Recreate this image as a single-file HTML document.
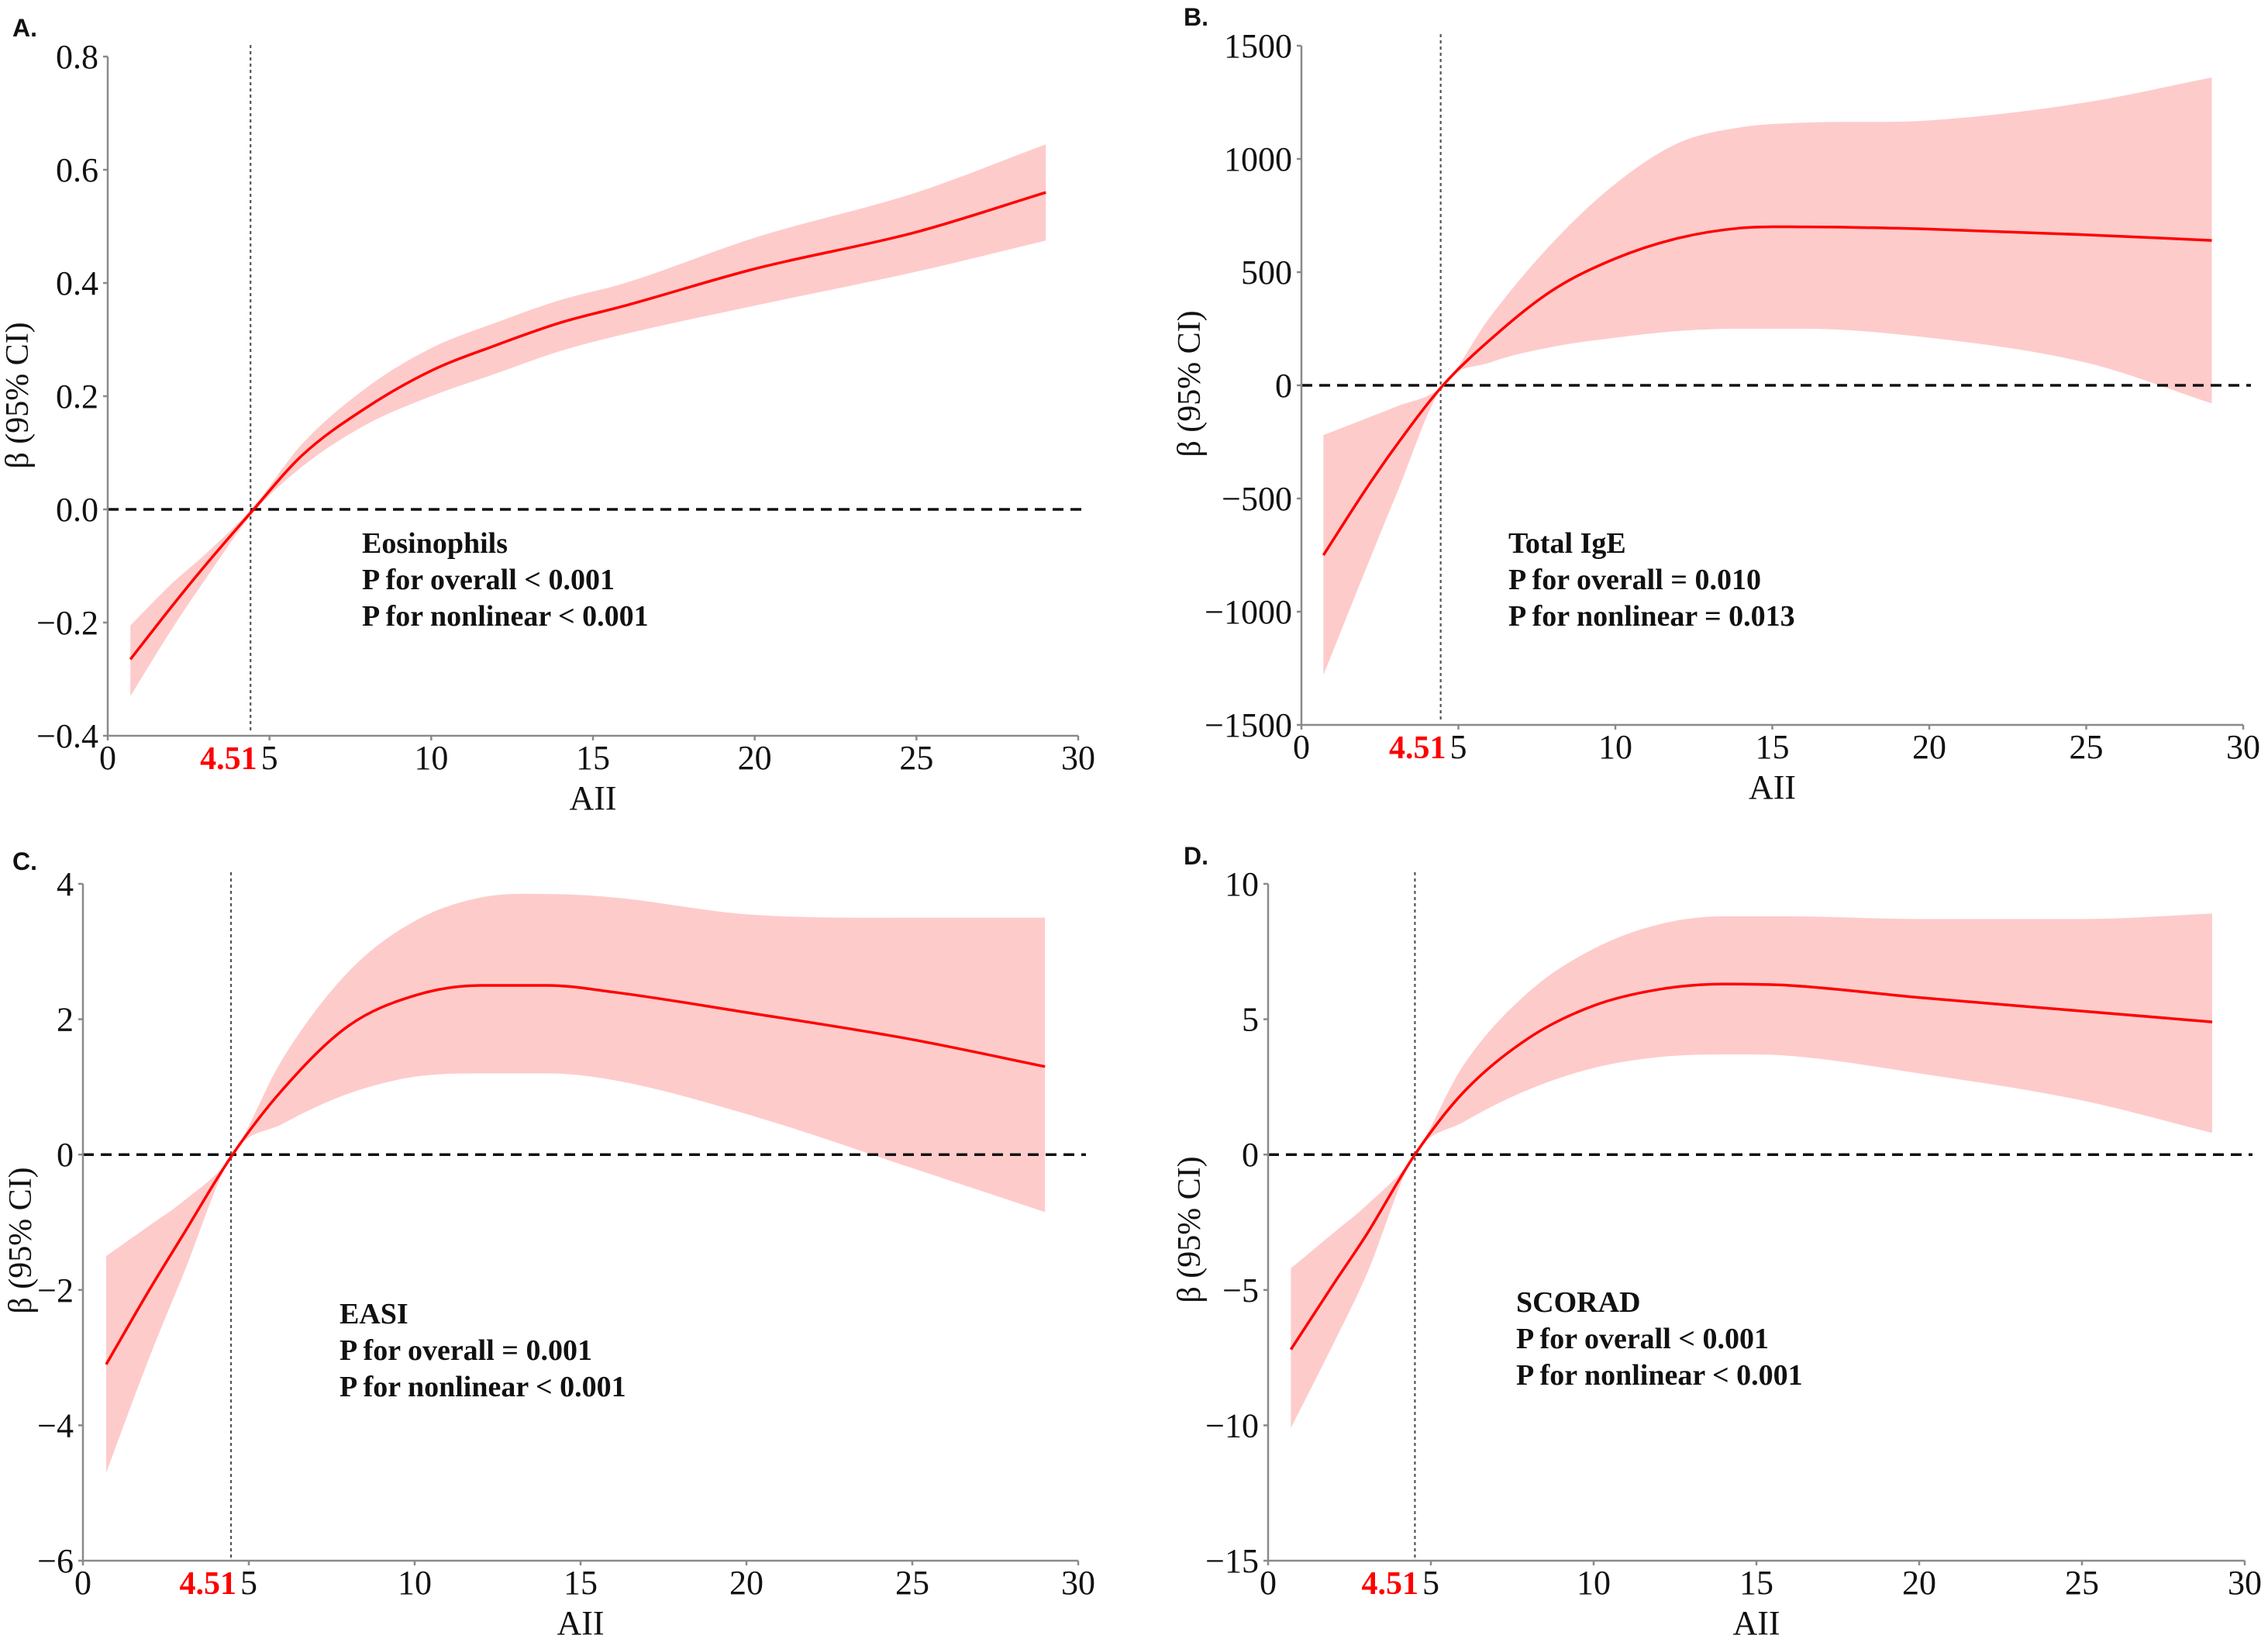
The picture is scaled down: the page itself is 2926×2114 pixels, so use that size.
<!DOCTYPE html>
<html><head><meta charset="utf-8"><style>
html,body{margin:0;padding:0;background:#fff;}
svg{display:block;}
</style></head><body>
<svg id="fig" xmlns="http://www.w3.org/2000/svg" width="2926" height="2114" viewBox="0 0 2926 2114"></svg>
<script>
// ---- data ----
const xs = [0.7, 2, 3, 4.51, 6, 8, 10, 12, 14, 16, 20, 25, 29];

const eosMean  = [-0.265,-0.17,-0.1,0,0.095,0.18,0.245,0.29,0.33,0.36,0.425,0.49,0.56];
const eosLower = [-0.33,-0.21,-0.125,-0.005,0.075,0.15,0.2,0.24,0.28,0.31,0.36,0.42,0.475];
const eosUpper = [-0.205,-0.13,-0.08,0.005,0.115,0.215,0.285,0.33,0.37,0.4,0.48,0.56,0.645];

const igeMean  = [-750,-470,-270,0,200,420,560,650,695,700,690,665,640];
const igeLower = [-1280,-830,-490,0,100,170,210,240,250,250,210,100,-80];
const igeUpper = [-220,-150,-95,0,300,630,890,1070,1140,1160,1170,1250,1360];

const easiMean  = [-3.1,-2.0,-1.2,0,0.95,1.9,2.35,2.5,2.5,2.4,2.1,1.7,1.3];
const easiLower = [-4.7,-3.0,-1.8,0,0.45,0.9,1.15,1.2,1.2,1.1,0.6,-0.2,-0.85];
const easiUpper = [-1.5,-1.05,-0.7,0,1.4,2.7,3.45,3.8,3.85,3.8,3.55,3.5,3.5];

const scoMean  = [-7.2,-4.8,-3.0,0,2.3,4.3,5.5,6.1,6.3,6.25,5.8,5.3,4.9];
const scoLower = [-10.1,-7,-4.5,0,1.2,2.4,3.2,3.6,3.7,3.65,3.0,2.0,0.8];
const scoUpper = [-4.2,-2.9,-1.9,0,3.3,6.0,7.6,8.5,8.8,8.8,8.7,8.7,8.9];

const xTicks = [0,5,10,15,20,25,30];
const eosTicks = [-0.4,-0.2,0.0,0.2,0.4,0.6,0.8];
const eosTickLabels = ["\u22120.4","\u22120.2","0.0","0.2","0.4","0.6","0.8"];
const igeTicks = [-1500,-1000,-500,0,500,1000,1500];
const igeTickLabels = ["\u22121500","\u22121000","\u2212500","0","500","1000","1500"];
const easiTicks = [-6,-4,-2,0,2,4];
const easiTickLabels = ["\u22126","\u22124","\u22122","0","2","4"];
const scoTicks = [-15,-10,-5,0,5,10];
const scoTickLabels = ["\u221215","\u221210","\u22125","0","5","10"];
const cutoff = 4.51;

const NS = "http://www.w3.org/2000/svg";
const svg = document.getElementById('fig');
const SERIF = "'Liberation Serif', serif";
function mk(tag, attrs, parent){ const e=document.createElementNS(NS,tag); for(const k in attrs) e.setAttribute(k,attrs[k]); (parent||svg).appendChild(e); return e; }

// monotone-ish cubic via Catmull-Rom with non-uniform x spacing handled through tangents
function tangents(pts){
  const n=pts.length, m=[];
  for(let i=0;i<n;i++){
    if(i===0) m.push((pts[1][1]-pts[0][1])/(pts[1][0]-pts[0][0]));
    else if(i===n-1) m.push((pts[n-1][1]-pts[n-2][1])/(pts[n-1][0]-pts[n-2][0]));
    else {
      const d0=(pts[i][1]-pts[i-1][1])/(pts[i][0]-pts[i-1][0]);
      const d1=(pts[i+1][1]-pts[i][1])/(pts[i+1][0]-pts[i][0]);
      m.push(d0*d1<=0?0:(d0+d1)/2);
    }
  }
  return m;
}
function seg(pts){
  const m=tangents(pts); let d='';
  for(let i=0;i<pts.length-1;i++){
    const h=pts[i+1][0]-pts[i][0];
    d+=` C${pts[i][0]+h/3},${pts[i][1]+m[i]*h/3} ${pts[i+1][0]-h/3},${pts[i+1][1]-m[i+1]*h/3} ${pts[i+1][0]},${pts[i+1][1]}`;
  }
  return d;
}
function smoothPath(pts){ return `M${pts[0][0]},${pts[0][1]}`+seg(pts); }
function smoothRev(pts){ // pts given in increasing x; draw reversed
  const r=pts.slice().reverse();
  const m=tangents(pts).reverse(); let d=` L${r[0][0]},${r[0][1]}`;
  for(let i=0;i<r.length-1;i++){
    const h=r[i+1][0]-r[i][0];
    d+=` C${r[i][0]+h/3},${r[i][1]+m[i]*h/3} ${r[i+1][0]-h/3},${r[i+1][1]-m[i+1]*h/3} ${r[i+1][0]},${r[i+1][1]}`;
  }
  return d;
}

function panel(cfg){
  const g = mk('g',{});
  
  
  const X = v => cfg.x0 + (v-0)/(30-0)*(cfg.x1-cfg.x0);
  const Y = v => cfg.yb + (v-cfg.ymin)/(cfg.ymax-cfg.ymin)*(cfg.yt-cfg.yb);

  const up = xs.map((x,i)=>[X(x),Y(cfg.upper[i])]);
  const lo = xs.map((x,i)=>[X(x),Y(cfg.lower[i])]);
  const band = mk('path',{d: smoothPath(up)+smoothRev(lo)+' Z', fill:'#fecbcb', stroke:'none'}, g);
  
  

  const zl = mk('line',{x1:cfg.x0, x2:X(30)+10, y1:Y(0), y2:Y(0), stroke:'#111', 'stroke-width':3.5, 'stroke-dasharray':'14 9'}, g);
  
  

  const vl = mk('line',{x1:X(cutoff)+cfg.vOff, x2:X(cutoff)+cfg.vOff, y1:cfg.yt-15, y2:cfg.yb-4, stroke:'#555', 'stroke-width':2.2, 'stroke-dasharray':'4 4'}, g);
  
  

  const mp = mk('path',{d: smoothPath(xs.map((x,i)=>[X(x),Y(cfg.mean[i])])), fill:'none', stroke:'#ff0000', 'stroke-width':3.5}, g);
  
  

  const ax = mk('path',{d:`M${cfg.x0},${cfg.yt} L${cfg.x0},${cfg.yb} L${X(30)},${cfg.yb}`, fill:'none', stroke:'#8a8a8a','stroke-width':2.5}, g);
  
  

  xTicks.forEach(t=>{
    mk('line',{x1:X(t),x2:X(t),y1:cfg.yb,y2:cfg.yb+6,stroke:'#8a8a8a','stroke-width':2.5},g);
    const tx = mk('text',{x:X(t), y:cfg.yb+43, 'text-anchor':'middle', 'font-family':SERIF, 'font-size':44, fill:'#111'}, g);
    tx.textContent = t;
    
    
  });
  cfg.ticks.forEach((t,i)=>{
    mk('line',{x1:cfg.x0-6,x2:cfg.x0,y1:Y(t),y2:Y(t),stroke:'#8a8a8a','stroke-width':2.5},g);
    const ty = mk('text',{x:cfg.x0-12, y:Y(t)+15, 'text-anchor':'end', 'font-family':SERIF, 'font-size':44, fill:'#111'}, g);
    ty.textContent = cfg.tickLabels[i];
    
    
  });
  const cl = mk('text',{x:X(5)-16, y:cfg.yb+43, 'text-anchor':'end', 'font-family':SERIF, 'font-weight':'bold', 'font-size':42, fill:'#ff0000'}, g);
  cl.textContent = '4.51';
  
  

  const xt = mk('text',{x:(cfg.x0+X(30))/2, y:cfg.yb+95, 'text-anchor':'middle', 'font-family':SERIF, 'font-size':44, fill:'#111'}, g);
  xt.textContent = 'AII';
  
  

  const yt = mk('text',{x:0, y:0, transform:`translate(${cfg.ytx},${cfg.yty}) rotate(-90)`, 'text-anchor':'middle', 'font-family':SERIF, 'font-size':42, fill:'#111'}, g);
  yt.textContent = '\u03B2 (95% CI)';
  
  

  const pl = mk('text',{x:cfg.lx, y:cfg.ly, 'font-family':"'Liberation Sans', sans-serif", 'font-weight':'bold', 'font-size':32, fill:'#111'}, g);
  pl.textContent = cfg.label;
  
  

  cfg.notes.forEach((s,i)=>{
    const n = mk('text',{x:cfg.ax, y:cfg.ay+i*47, 'font-family':SERIF, 'font-weight':'bold', 'font-size':38, fill:'#111'}, g);
    n.textContent = s;
    
    
  });
}

panel({name:'panel-a-eosinophils', label:'A.', lx:16, ly:47, x0:139, x1:1391, yt:73, yb:949, ymin:-0.4, ymax:0.8,
  mean:eosMean, lower:eosLower, upper:eosUpper, ticks:eosTicks, tickLabels:eosTickLabels, vOff:-4,
  ytx:36, yty:510, ax:467, ay:713, notes:['Eosinophils','P for overall < 0.001','P for nonlinear < 0.001']});
panel({name:'panel-b-total-ige', label:'B.', lx:1527, ly:33, x0:1679, x1:2894, yt:59, yb:935, ymin:-1500, ymax:1500,
  mean:igeMean, lower:igeLower, upper:igeUpper, ticks:igeTicks, tickLabels:igeTickLabels, vOff:-3,
  ytx:1548, yty:495, ax:1946, ay:713, notes:['Total IgE','P for overall = 0.010','P for nonlinear = 0.013']});
panel({name:'panel-c-easi', label:'C.', lx:16, ly:1122, x0:107, x1:1391, yt:1140, yb:2013, ymin:-6, ymax:4,
  mean:easiMean, lower:easiLower, upper:easiUpper, ticks:easiTicks, tickLabels:easiTickLabels, vOff:-2,
  ytx:40, yty:1600, ax:438, ay:1707, notes:['EASI','P for overall = 0.001','P for nonlinear < 0.001']});
panel({name:'panel-d-scorad', label:'D.', lx:1527, ly:1115, x0:1636, x1:2896, yt:1140, yb:2013, ymin:-15, ymax:10,
  mean:scoMean, lower:scoLower, upper:scoUpper, ticks:scoTicks, tickLabels:scoTickLabels, vOff:0,
  ytx:1548, yty:1586, ax:1956, ay:1692, notes:['SCORAD','P for overall < 0.001','P for nonlinear < 0.001']});
</script>
</body></html>
